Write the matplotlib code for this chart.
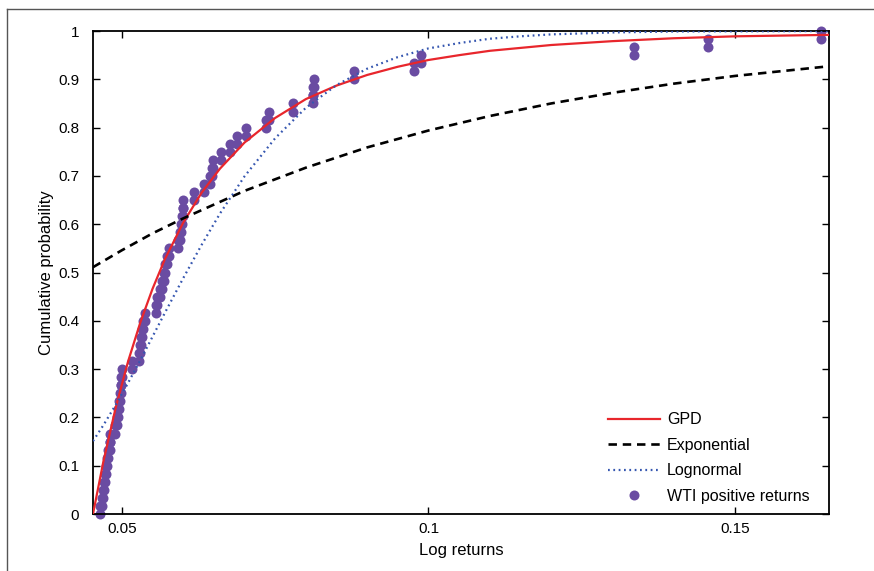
import numpy as np
import matplotlib
matplotlib.use("Agg")
import matplotlib.pyplot as plt
from matplotlib.lines import Line2D

plt.rcParams['font.family'] = ['Liberation Sans', 'DejaVu Sans']

# WTI positive log returns (sorted)
wti_returns = np.array([
    0.0465, 0.0467, 0.0469, 0.0471, 0.0472, 0.0474, 0.0476, 0.0478, 0.0480, 0.0481,
    0.0489, 0.0492, 0.0493, 0.0495, 0.0497, 0.0498, 0.0499, 0.0501, 0.0516, 0.0528,
    0.0529, 0.0531, 0.0533, 0.0534, 0.0537, 0.0555, 0.0558, 0.0563, 0.0566, 0.0569,
    0.0571, 0.0573, 0.0577, 0.0592, 0.0595, 0.0596, 0.0598, 0.0599, 0.0600, 0.0617,
    0.0634, 0.0644, 0.0647, 0.0649, 0.0661, 0.0676, 0.0688, 0.0702, 0.0735, 0.0740,
    0.0779, 0.0811, 0.0811, 0.0813, 0.0878, 0.0976, 0.0987, 0.1335, 0.1455, 0.1640,
])

# fitted curves, values read at a few x positions
gpd_x = [0.0453, 0.047, 0.049, 0.051, 0.053, 0.055, 0.057, 0.060, 0.063, 0.066, 0.070,
         0.075, 0.080, 0.085, 0.090, 0.095, 0.100, 0.105, 0.110, 0.115, 0.120, 0.130,
         0.140, 0.150, 0.1653]
gpd_y = [0.0, 0.109, 0.220, 0.315, 0.396, 0.466, 0.527, 0.603, 0.665, 0.715, 0.769,
         0.820, 0.859, 0.887, 0.909, 0.926, 0.940, 0.950, 0.959, 0.965, 0.971, 0.979,
         0.985, 0.989, 0.992]

expo_x = [0.0453, 0.05, 0.055, 0.06, 0.07, 0.08, 0.09, 0.10, 0.11, 0.12, 0.13, 0.14, 0.15, 0.1653]
expo_y = [0.511, 0.546, 0.581, 0.612, 0.669, 0.717, 0.759, 0.794, 0.824, 0.850, 0.872,
          0.891, 0.907, 0.927]

logn_x = [0.0453, 0.047, 0.049, 0.051, 0.053, 0.055, 0.057, 0.060, 0.063, 0.066, 0.070,
          0.075, 0.080, 0.085, 0.090, 0.095, 0.100, 0.105, 0.110, 0.115, 0.120, 0.130,
          0.140, 0.150, 0.1653]
logn_y = [0.151, 0.184, 0.226, 0.271, 0.318, 0.367, 0.416, 0.488, 0.557, 0.622, 0.699,
          0.778, 0.841, 0.888, 0.922, 0.946, 0.964, 0.975, 0.984, 0.989, 0.993, 0.997,
          0.999, 0.9994, 0.9998]

n = len(wti_returns)
lower = np.arange(0, n) / n
upper = np.arange(1, n + 1) / n

fig = plt.figure(figsize=(8.74, 5.71), dpi=100)
ax = fig.add_axes([0.1064, 0.0998, 0.8421, 0.8459])

purple = "#6a4ca2"
ax.plot(np.r_[wti_returns, wti_returns], np.r_[lower, upper], 'o', color=purple,
        markersize=7.2, markeredgewidth=0, clip_on=False, zorder=2)

l1, = ax.plot(gpd_x, gpd_y, color="#e8262c", linewidth=1.6, zorder=3)
l2, = ax.plot(expo_x, expo_y, color="black", linewidth=1.9, linestyle=(0, (3.2, 2.2)), zorder=3)
l3, = ax.plot(logn_x, logn_y, color="#3556b0", linewidth=1.6, linestyle=(0, (0.8, 1.6)), zorder=3)
l4 = Line2D([], [], marker='o', linestyle='none', color=purple, markersize=7.2, markeredgewidth=0)

ax.set_xlim(0.0453, 0.1653)
ax.set_ylim(0, 1)
ax.set_xticks([0.05, 0.1, 0.15])
ax.set_xticklabels(["0.05", "0.1", "0.15"])
yt = np.round(np.arange(0, 1.01, 0.1), 1)
ax.set_yticks(yt)
ax.set_yticklabels(["0", "0.1", "0.2", "0.3", "0.4", "0.5", "0.6", "0.7", "0.8", "0.9", "1"])
ax.tick_params(direction='in', top=True, right=True, length=5, width=1, labelsize=11)
ax.tick_params(axis='y', pad=10)
ax.tick_params(axis='x', pad=6)
for s in ax.spines.values():
    s.set_linewidth(1.3)

ax.set_xlabel("Log returns", fontsize=12, labelpad=5)
ax.set_ylabel("Cumulative probability", fontsize=12, labelpad=3)

ax.legend([l1, l2, l3, l4], ["GPD", "Exponential", "Lognormal", "WTI positive returns"],
          loc='lower right', bbox_to_anchor=(0.993, -0.008), frameon=False,
          fontsize=11.5, handlelength=3.3, labelspacing=0.65, handletextpad=0.4)

# outer frame
fig.add_artist(Line2D([7 / 874, 7 / 874], [0, 1 - 9 / 571], transform=fig.transFigure,
                      color="#555555", linewidth=1.0))
fig.add_artist(Line2D([7 / 874, 1], [1 - 9 / 571, 1 - 9 / 571], transform=fig.transFigure,
                      color="#555555", linewidth=1.0))

fig.savefig("out.png", dpi=100)
